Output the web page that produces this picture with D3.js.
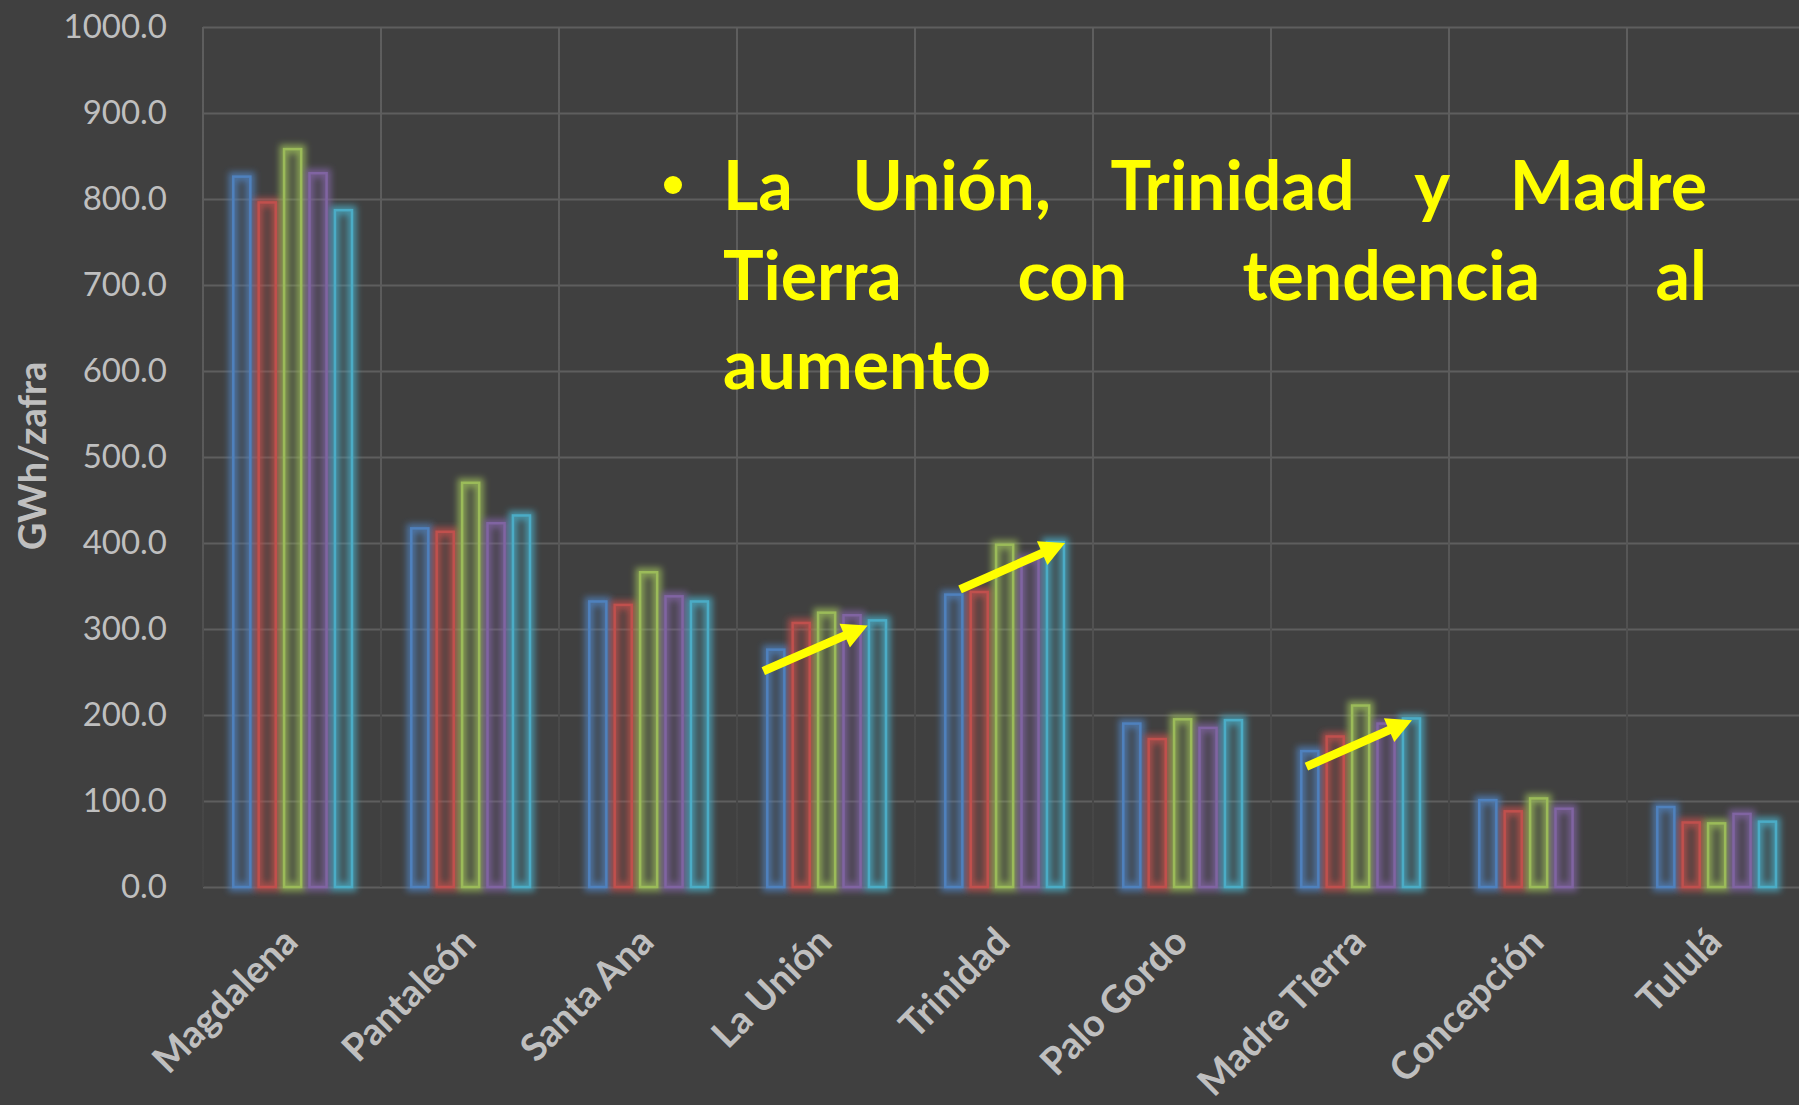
<!DOCTYPE html>
<html>
<head>
<meta charset="utf-8">
<script src="https://cdn.jsdelivr.net/npm/d3@7"></script>
<style>
  html, body { margin: 0; padding: 0; background: #404040; }
  svg { display: block; }
</style>
</head>
<body>
<svg id="chart" width="1799" height="1105"></svg>
<script>
// ingenios (categorias)
var categories = ["Magdalena", "Pantaleón", "Santa Ana", "La Unión", "Trinidad",
                  "Palo Gordo", "Madre Tierra", "Concepción", "Tululá"];

// cinco zafras, GWh/zafra por ingenio (null = sin dato)
var zafra1 = [826, 417, 332, 276, 340, 190, 158, 101, 93];
var zafra2 = [796, 413, 328, 307, 343, 172, 175, 88, 75];
var zafra3 = [858, 470, 366, 319, 398, 195, 211, 103, 74];
var zafra4 = [830, 423, 338, 316, 382, 185, 190, 91, 85];
var zafra5 = [787, 432, 332, 310, 401, 194, 196, null, 76];

var seriesNames = ["zafra1", "zafra2", "zafra3", "zafra4", "zafra5"];
var seriesValues = [zafra1, zafra2, zafra3, zafra4, zafra5];

var yTicks = d3.range(0, 1001, 100);
var yTitle = "GWh/zafra";

// flechas de tendencia: categoria, [posicion en la banda, valor] inicio -> fin
var arrowCats = ["La Unión", "Trinidad", "Madre Tierra"];
var arrowFrom = [[0.148, 251], [0.253, 346], [0.199, 140]];
var arrowTo   = [[0.734, 304], [0.843, 400], [0.792, 194]];

var noteLines = [
  ["La", "Unión,", "Trinidad", "y", "Madre"],
  ["Tierra", "con", "tendencia", "al"],
  ["aumento"]
];

var colors = ["#4F81BD", "#C0504D", "#9BBB59", "#8064A2", "#4BACC6"];

var svg = d3.select("#chart");
var W = 1799, H = 1105;
var plot = {left: 203, top: 27, bottom: 887, step: 178};

svg.append("rect").attr("width", W).attr("height", H).attr("fill", "#404040");

var defs = svg.append("defs");

// grid fades toward the bottom
var grad = defs.append("linearGradient")
  .attr("id", "gridFade")
  .attr("gradientUnits", "userSpaceOnUse")
  .attr("x1", 0).attr("y1", plot.top).attr("x2", 0).attr("y2", plot.bottom);
grad.append("stop").attr("offset", "0%").attr("stop-color", "#5e5e5e");
grad.append("stop").attr("offset", "55%").attr("stop-color", "#5a5a5a");
grad.append("stop").attr("offset", "80%").attr("stop-color", "#4a4a4a");
grad.append("stop").attr("offset", "100%").attr("stop-color", "#444444");

var glow = defs.append("filter").attr("id", "glow")
  .attr("x", "-100%").attr("y", "-20%").attr("width", "300%").attr("height", "140%");
glow.append("feGaussianBlur").attr("in", "SourceGraphic").attr("stdDeviation", 3.2);

var x = d3.scaleBand()
  .domain(categories)
  .range([plot.left, plot.left + categories.length * plot.step]);

var x1 = d3.scaleBand()
  .domain(seriesNames)
  .range([x.bandwidth() * 0.163, x.bandwidth() * 0.844])
  .paddingInner(0.23);

var y = d3.scaleLinear().domain([0, 1000]).range([plot.bottom, plot.top]);

// horizontal grid
svg.append("g")
  .attr("transform", "translate(" + plot.left + ",0)")
  .call(d3.axisLeft(y).tickValues(yTicks).tickSize(-(W - plot.left)).tickFormat(""))
  .call(function(g) {
    g.select(".domain").remove();
    g.selectAll("line").attr("stroke", "url(#gridFade)").attr("stroke-width", 2);
  });

// vertical grid
svg.append("g").selectAll("line")
  .data(categories)
  .join("line")
  .attr("x1", function(d) { return x(d); })
  .attr("x2", function(d) { return x(d); })
  .attr("y1", plot.top).attr("y2", plot.bottom)
  .attr("stroke", "url(#gridFade)").attr("stroke-width", 2);

// y tick labels
svg.append("g")
  .attr("transform", "translate(" + plot.left + ",0)")
  .call(d3.axisLeft(y).tickValues(yTicks).tickSize(0).tickPadding(36).tickFormat(d3.format(".1f")))
  .call(function(g) {
    g.select(".domain").remove();
    g.selectAll("text")
      .attr("fill", "#BFBFBF")
      .attr("font-family", "Lato, 'Open Sans', sans-serif")
      .attr("font-size", 33);
  });

// y title
svg.append("text")
  .attr("transform", "translate(31,456) rotate(-90)")
  .attr("text-anchor", "middle")
  .attr("dominant-baseline", "central")
  .attr("fill", "#BFBFBF")
  .attr("font-family", "Lato, 'Open Sans', sans-serif")
  .attr("font-weight", "bold")
  .attr("font-size", 38)
  .text(yTitle);

// bars
var barData = [];
categories.forEach(function(c, i) {
  seriesNames.forEach(function(s, j) {
    var v = seriesValues[j][i];
    if (v !== null) barData.push({cat: c, series: s, idx: j, value: v});
  });
});

var sw = 2.5;
var bars = svg.append("g");

bars.selectAll(".bar-glow")
  .data(barData)
  .join("rect")
  .attr("class", "bar-glow")
  .attr("x", function(d) { return x(d.cat) + x1(d.series) + sw / 2; })
  .attr("y", function(d) { return y(d.value); })
  .attr("width", x1.bandwidth() - sw)
  .attr("height", function(d) { return y(0) - y(d.value); })
  .attr("fill", "none")
  .attr("stroke", function(d) { return colors[d.idx]; })
  .attr("stroke-width", 9)
  .attr("stroke-opacity", 0.75)
  .attr("filter", "url(#glow)");

bars.selectAll(".bar")
  .data(barData)
  .join("rect")
  .attr("class", "bar")
  .attr("x", function(d) { return x(d.cat) + x1(d.series) + sw / 2; })
  .attr("y", function(d) { return y(d.value); })
  .attr("width", x1.bandwidth() - sw)
  .attr("height", function(d) { return y(0) - y(d.value); })
  .attr("fill", function(d) { return colors[d.idx]; })
  .attr("fill-opacity", 0.12)
  .attr("stroke", function(d) { return colors[d.idx]; })
  .attr("stroke-width", sw);

// category labels
svg.append("g").selectAll("text")
  .data(categories)
  .join("text")
  .attr("transform", function(d) {
    return "translate(" + (x(d) + x.bandwidth() / 2 + 8) + ",944) rotate(-45)";
  })
  .attr("text-anchor", "end")
  .attr("fill", "#BFBFBF")
  .attr("font-family", "Lato, 'Open Sans', sans-serif")
  .attr("font-weight", "bold")
  .attr("font-size", 38)
  .text(function(d) { return d; });

// trend arrows
function arrowPath(p0, p1, shaft, headLen, headW) {
  var dx = p1[0] - p0[0], dy = p1[1] - p0[1];
  var L = Math.sqrt(dx * dx + dy * dy);
  var ux = dx / L, uy = dy / L, nx = -uy, ny = ux;
  var bx = p1[0] - ux * headLen, by = p1[1] - uy * headLen;
  var pts = [
    [p0[0] + nx * shaft / 2, p0[1] + ny * shaft / 2],
    [bx + nx * shaft / 2, by + ny * shaft / 2],
    [bx + nx * headW / 2, by + ny * headW / 2],
    [p1[0], p1[1]],
    [bx - nx * headW / 2, by - ny * headW / 2],
    [bx - nx * shaft / 2, by - ny * shaft / 2],
    [p0[0] - nx * shaft / 2, p0[1] - ny * shaft / 2]
  ];
  return "M" + pts.map(function(p) { return p[0].toFixed(1) + "," + p[1].toFixed(1); }).join("L") + "Z";
}

svg.append("g").selectAll("path")
  .data(arrowCats)
  .join("path")
  .attr("d", function(c, i) {
    var p0 = [x(c) + arrowFrom[i][0] * x.bandwidth(), y(arrowFrom[i][1])];
    var p1 = [x(c) + arrowTo[i][0] * x.bandwidth(), y(arrowTo[i][1])];
    return arrowPath(p0, p1, 8.5, 25, 26);
  })
  .attr("fill", "#FFFF00");

// note with bullet, justified lines
var note = svg.append("g")
  .attr("fill", "#FFFF00")
  .attr("font-family", "Lato, 'Open Sans', sans-serif")
  .attr("font-weight", "bold")
  .attr("font-size", 68);

note.append("circle").attr("cx", 673).attr("cy", 185).attr("r", 9);

var noteLeft = 723, noteRight = 1707, noteBase = [210, 300, 389];
noteLines.forEach(function(words, li) {
  var texts = words.map(function(w) {
    return note.append("text").attr("y", noteBase[li]).text(w);
  });
  var widths = texts.map(function(t) { return t.node().getComputedTextLength(); });
  var total = d3.sum(widths);
  var gap = words.length > 1 && li < noteLines.length - 1
    ? (noteRight - noteLeft - total) / (words.length - 1) : 18;
  var cx = noteLeft;
  texts.forEach(function(t, i) {
    t.attr("x", cx);
    cx += widths[i] + gap;
  });
});
</script>
</body>
</html>
